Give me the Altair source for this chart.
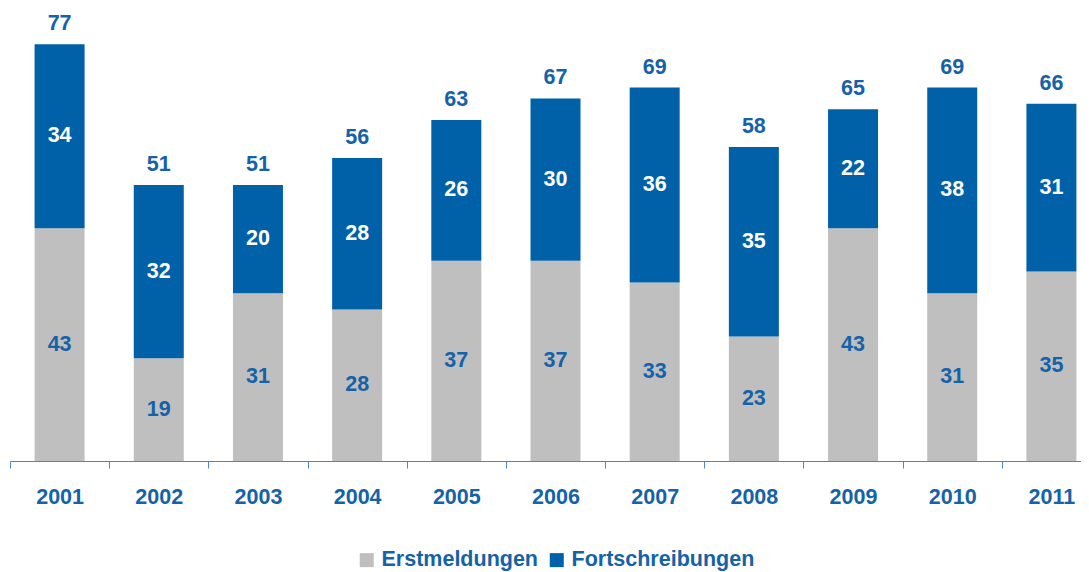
import altair as alt
import pandas as pd

years = ["2001", "2002", "2003", "2004", "2005", "2006", "2007", "2008", "2009", "2010", "2011"]
erstmeldungen = [43, 19, 31, 28, 37, 37, 33, 23, 43, 31, 35]
fortschreibungen = [34, 32, 20, 28, 26, 30, 36, 35, 22, 38, 31]
series = ["Erstmeldungen", "Fortschreibungen"]

BLUE = "#0060A8"
GRAY = "#BFBFBF"
TXT = "#1562A8"
FONT = "Liberation Sans"
FS = 21.5

rows = []
for i, y in enumerate(years):
    e, f = erstmeldungen[i], fortschreibungen[i]
    rows.append({"year": y, "series": series[0], "value": e, "ord": 0, "mid": e / 2})
    rows.append({"year": y, "series": series[1], "value": f, "ord": 1, "mid": e + f / 2})
df = pd.DataFrame(rows)

xscale = alt.Scale(range=[0, 1091], paddingInner=0, paddingOuter=0)
xenc = alt.X("year:N", sort=years, scale=xscale,
             axis=alt.Axis(title=None, labelAngle=0, tickBand="extent", tickSize=7,
                           domainColor="#4F86C0", tickColor="#4F86C0",
                           labelFont=FONT, labelFontSize=FS, labelFontWeight="bold",
                           labelColor=TXT, labelPadding=18))
yscale = alt.Scale(domain=[0, 83.7], nice=False)

base = alt.Chart(df)

bars = base.mark_bar(size=50).encode(
    x=xenc,
    y=alt.Y("value:Q", stack="zero", scale=yscale, axis=None),
    color=alt.Color("series:N", sort=series,
                    scale=alt.Scale(domain=series, range=[GRAY, BLUE]),
                    legend=alt.Legend(title=None, orient="none", legendX=346, legendY=541,
                                      direction="horizontal", symbolType="square",
                                      symbolSize=196, symbolStrokeWidth=0, labelLimit=400,
                                      labelFont=FONT, labelFontSize=FS, labelFontWeight="bold",
                                      labelColor=TXT, labelOffset=4, columnPadding=8)),
    order=alt.Order("ord:Q"),
)

xtxt = alt.X("year:N", sort=years, scale=xscale)

lab_e = base.transform_filter(alt.datum.series == series[0]).mark_text(
    font=FONT, fontSize=FS, fontWeight="bold", color=TXT, baseline="middle"
).encode(x=xtxt, y=alt.Y("mid:Q", scale=yscale), text="value:Q")

lab_f = base.transform_filter(alt.datum.series == series[1]).mark_text(
    font=FONT, fontSize=FS, fontWeight="bold", color="white", baseline="middle"
).encode(x=xtxt, y=alt.Y("mid:Q", scale=yscale), text="value:Q")

totals = base.transform_aggregate(total="sum(value)", groupby=["year"]).mark_text(
    font=FONT, fontSize=FS, fontWeight="bold", color=TXT, baseline="middle", dy=-20
).encode(x=xtxt, y=alt.Y("total:Q", scale=yscale), text="total:Q")

chart = alt.layer(bars, lab_e, lab_f, totals).properties(
    width=1071, height=453,
    autosize=alt.AutoSizeParams(type="none"),
    padding={"left": 2, "top": 0, "right": 0, "bottom": 111},
).configure_view(stroke=None)

chart.save("out.html", embed_options={"renderer": "svg", "actions": False})
